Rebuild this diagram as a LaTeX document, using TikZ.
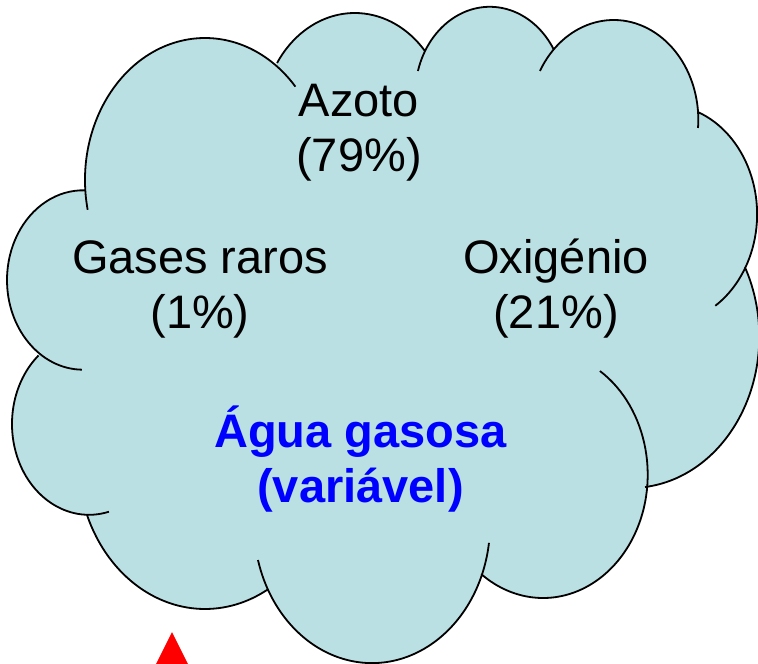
\documentclass[tikz,border=0pt]{standalone}
\usepackage{fontspec}
\setmainfont{Liberation Sans}
\usepackage{xcolor}
\usepackage{tikz}
\definecolor{cloudblue}{RGB}{187,224,227}
\definecolor{vapourblue}{RGB}{0,0,255}
\definecolor{markred}{RGB}{255,0,0}
\newcommand{\puff}[6]{([shift={(#1,#2)}]#5:#3 and #4) arc[start angle=#5, end angle=#6, x radius=#3, y radius=#4]}

\begin{document}
\begin{tikzpicture}[x=1pt, y=1pt, yscale=-1,
    gaslabel/.style={align=center, anchor=base, font=\fontsize{47}{55}\selectfont},
    cloudedge/.style={line width=1.8pt}]
    \clip (0,0) rectangle (758,664);
    \fill[cloudblue] \puff{205}{180}{120}{142}{176}{306}
      -- \puff{354.8}{122.2}{92.5}{109.2}{212.8}{319.3}
      -- \puff{489.8}{95}{74.7}{88.2}{209.9}{329.3}
      -- \puff{613.7}{119.8}{84.6}{99.8}{224.7}{355.5}
      -- \puff{664.1}{214.2}{93}{109.7}{291.4}{388.9}
      -- \puff{631.2}{336.7}{128.1}{151.2}{332.6}{443.8}
      -- \puff{543.1}{474.6}{104.6}{123.4}{365.9}{486.3}
      -- \puff{372}{523.7}{118.1}{139.4}{21.4}{151.8}
      -- \puff{205}{458.9}{127.2}{150.1}{60.8}{158}
      -- \puff{89}{424}{77}{90.8}{91.5}{229}
      -- \puff{83}{280}{76}{89.7}{125.3}{271.5} -- cycle;
    \draw[cloudedge] \puff{205}{180}{120}{142}{167.9}{318.9}
      \puff{354.8}{122.2}{92.5}{109.2}{212.8}{319.3}
      \puff{489.8}{95}{74.7}{88.2}{195.8}{329.3}
      \puff{613.7}{119.8}{84.6}{99.8}{209.3}{364.7}
      \puff{664.1}{214.2}{93}{109.7}{291.4}{416.6}
      \puff{631.2}{336.7}{128.1}{151.2}{332.6}{443.8}
      \puff{543.1}{474.6}{104.6}{123.4}{302.9}{486.3}
      \puff{372}{523.7}{118.1}{139.4}{7.9}{164.9}
      \puff{205}{458.9}{127.2}{150.1}{60.8}{158}
      \puff{89}{424}{77}{90.8}{75}{229}
      \puff{83}{280}{76}{89.7}{90.8}{271.5};
    \node[gaslabel] (azoto) at (359,171) {Azoto\\(79\%)};
    \node[gaslabel] (raros) at (200,328) {Gases raros\\(1\%)};
    \node[gaslabel] (oxigenio) at (556,328) {Oxigénio\\(21\%)};
    \node[gaslabel, text=vapourblue, font=\fontsize{47}{55}\selectfont\bfseries] (agua) at (360.5,502) {Água gasosa\\(variável)};
    \fill[markred] (172,632) -- (194,676) -- (150,676) -- cycle;
\end{tikzpicture}
\end{document}
